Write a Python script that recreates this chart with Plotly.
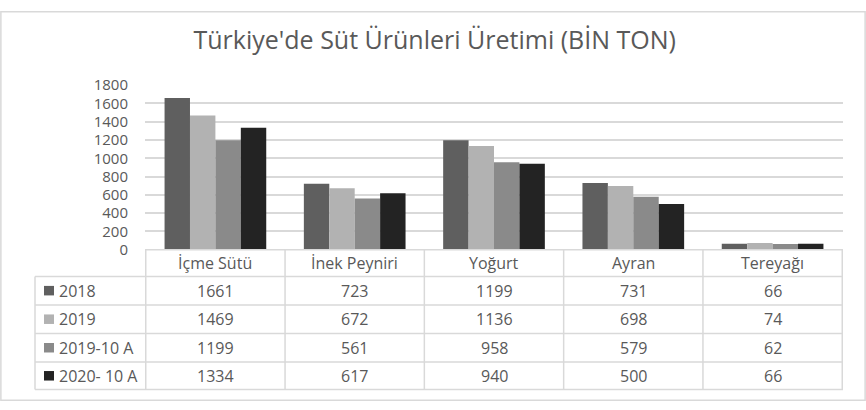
import plotly.graph_objects as go

W, H = 866, 410

categories = ["İçme Sütü", "İnek Peyniri", "Yoğurt", "Ayran", "Tereyağı"]
series_names = ["2018", "2019", "2019-10 A", "2020- 10 A"]
v2018 = [1661, 723, 1199, 731, 66]
v2019 = [1469, 672, 1136, 698, 74]
v2019_10a = [1199, 561, 958, 579, 62]
v2020_10a = [1334, 617, 940, 500, 66]
y_ticks = [0, 200, 400, 600, 800, 1000, 1200, 1400, 1600, 1800]

series_values = [v2018, v2019, v2019_10a, v2020_10a]
colors = ["#5f5f5f", "#b2b2b2", "#8a8a8a", "#232323"]
text_color = "#595959"
grid = "#d9d9d9"
font = "Open Sans"


def px(x):
    return x / W


def py(y):
    return (H - y) / H


fig = go.Figure()
for name, vals, color in zip(series_names, series_values, colors):
    fig.add_trace(go.Bar(x=categories, y=vals, name=name, marker_color=color,
                         marker_line_width=0, showlegend=False))

fig.update_layout(
    width=W, height=H,
    margin=dict(l=0, r=0, t=0, b=0),
    paper_bgcolor="white", plot_bgcolor="white",
    barmode="group", bargap=0.27, bargroupgap=0,
    font=dict(family=font, color=text_color, size=16),
    title=dict(text="Türkiye'de Süt Ürünleri Üretimi (BİN TON)",
               x=0.502, xanchor="center", y=py(40), yanchor="middle",
               font=dict(size=25, color=text_color, family=font)),
)
fig.update_xaxes(domain=[px(145), px(843)], showticklabels=False, showgrid=False,
                 zeroline=False, showline=False, ticks="")
fig.update_yaxes(domain=[py(251), py(78)], range=[0, 1800], tickvals=y_ticks,
                 showgrid=True, gridcolor=grid, gridwidth=1.5, zeroline=False,
                 showline=False, ticks="", ticklabelstandoff=16,
                 tickfont=dict(size=15, color=text_color))

# data table under the chart
row_top = [251, 279, 309, 339, 369, 398]
shapes = []
line = dict(color=grid, width=1.5)
shapes.append(dict(type="line", xref="paper", yref="paper", x0=px(145), x1=px(843),
                   y0=py(row_top[0]), y1=py(row_top[0]), line=line))
for yv in row_top[1:]:
    shapes.append(dict(type="line", xref="paper", yref="paper", x0=px(35), x1=px(843),
                       y0=py(yv), y1=py(yv), line=line))
shapes.append(dict(type="line", xref="paper", yref="paper", x0=px(35), x1=px(35),
                   y0=py(row_top[1]), y1=py(row_top[-1]), line=line))
for i in range(len(categories) + 1):
    shapes.append(dict(type="line", xref="x", yref="paper", x0=i - 0.5, x1=i - 0.5,
                       y0=py(row_top[0]), y1=py(row_top[-1]), line=line))
# outer border
shapes.append(dict(type="rect", xref="paper", yref="paper", x0=0.001, x1=0.999,
                   y0=0.002, y1=0.998, line=dict(color=grid, width=1.5)))

annotations = []
for cat in categories:
    annotations.append(dict(x=cat, y=py((row_top[0] + row_top[1]) / 2), xref="x", yref="paper",
                            text=cat, showarrow=False, xanchor="center", yanchor="middle"))
for r, (name, vals, color) in enumerate(zip(series_names, series_values, colors)):
    yc = py((row_top[r + 1] + row_top[r + 2]) / 2)
    # legend key square
    shapes.append(dict(type="rect", xref="paper", yref="paper", x0=px(44), x1=px(54),
                       y0=yc - 5 / H, y1=yc + 5 / H, fillcolor=color, line_width=0))
    annotations.append(dict(x=px(57), y=yc, xref="paper", yref="paper", text=name,
                            xanchor="left", yanchor="middle", showarrow=False))
    for cat, v in zip(categories, vals):
        annotations.append(dict(x=cat, y=yc, xref="x", yref="paper", text=str(v),
                                showarrow=False, xanchor="center", yanchor="middle"))

fig.update_layout(shapes=shapes, annotations=annotations)

fig.write_html("out.html", post_script="document.body.style.margin='0';",
               config={"displayModeBar": False})
